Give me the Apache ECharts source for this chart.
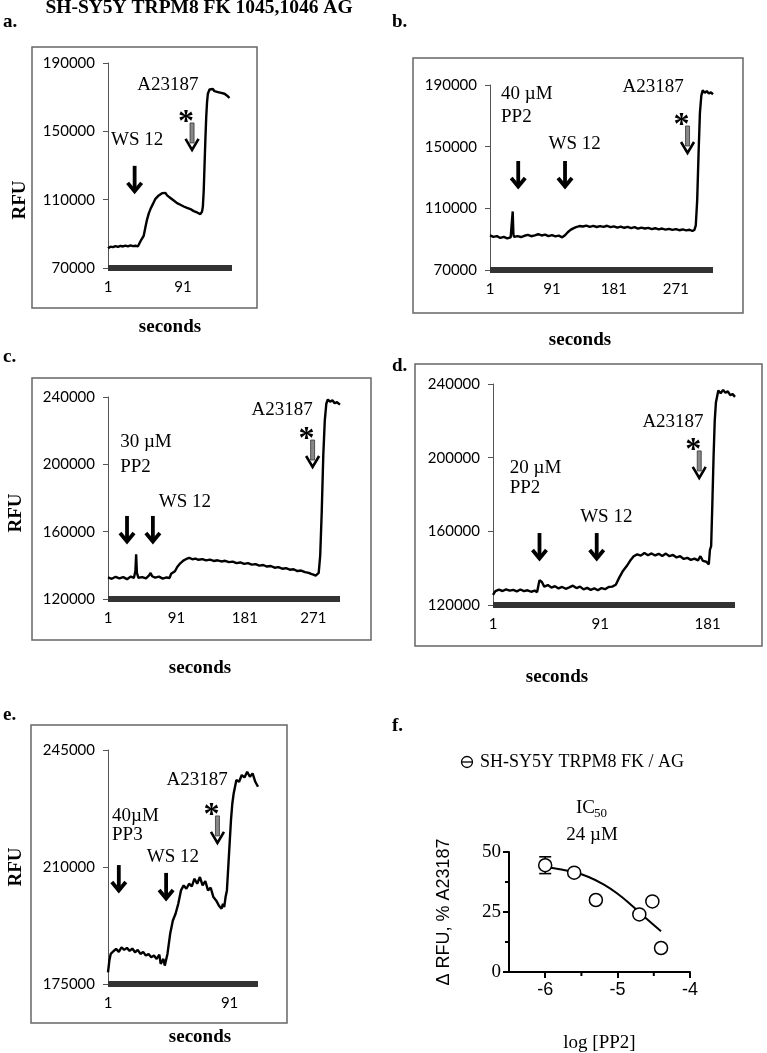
<!DOCTYPE html>
<html><head><meta charset="utf-8">
<script src="https://cdn.jsdelivr.net/npm/echarts@6/dist/echarts.min.js"></script>
<style>html,body{margin:0;padding:0;background:#fff}#c{width:767px;height:1053px}</style>
</head><body><div id="c"></div>
<script>
// ---------- DATA ----------
// panel a : [seconds, RFU]
const traceA = [[1,81500],[4,82500],[7,82200],[10,82800],[13,82400],[16,83000],[19,82600],[22,83100],[25,82700],[28,83200],[31,82800],[34,83000],[37,82700],[39,83500],[41,86500],[42,85500],[44,89000],[46,94000],[48,98500],[50,102000],[52,104500],[54,106500],[56,108500],[58,110500],[60,111500],[62,112500],[64,113000],[66,113800],[68,113200],[70,114000],[72,112500],[74,111800],[76,111000],[78,110200],[80,109500],[82,108600],[84,108000],[86,107400],[88,107000],[90,106600],[92,106000],[94,105800],[96,105200],[98,104800],[100,104500],[102,104000],[104,103300],[106,103000],[108,102500],[110,102000],[112,101500],[114,103000],[115,106000],[116,115000],[117,130000],[118,145000],[119,158000],[120,167000],[121,172000],[123,174500],[125,174000],[127,174800],[129,173500],[131,174200],[133,173000],[135,173800],[137,172500],[139,173200],[141,172000],[143,171500],[145,170500],[147,169500]];
// panel b
const traceB = [[1,92500],[6,91500],[11,92000],[16,90800],[21,91500],[26,90500],[31,91200],[33,92000],[34,108000],[35,93000],[36,91500],[41,92000],[46,91400],[51,92200],[56,92800],[61,91900],[66,92500],[71,93200],[76,92400],[81,93000],[86,92000],[91,92600],[96,91800],[101,92300],[106,91200],[110,92500],[114,94500],[118,96000],[122,97000],[126,97800],[131,98500],[136,98200],[141,98800],[146,98000],[151,98600],[156,97900],[161,98500],[166,98000],[171,98700],[176,97800],[181,98300],[186,97500],[191,98200],[196,97400],[201,98000],[206,97200],[211,97800],[216,96800],[221,97500],[226,96900],[231,97300],[236,96500],[241,97100],[246,96300],[251,96900],[256,96200],[261,96700],[266,96000],[271,96500],[276,95800],[281,96300],[286,95700],[291,96100],[295,95300],[298,96000],[300,99000],[302,115000],[304,145000],[306,172000],[308,183000],[310,186500],[313,185000],[316,186000],[319,184500],[322,185200],[325,184000]];
// panel c
const traceC = [[1,132800],[6,132000],[11,133200],[16,132200],[21,133000],[26,131800],[31,133300],[35,132500],[37,136500],[38,146500],[39,135500],[41,132600],[46,133000],[51,132300],[55,134000],[57,135500],[59,133500],[63,132700],[68,133300],[73,132100],[78,132800],[82,132500],[84,135000],[86,134000],[89,136500],[92,139000],[96,141200],[100,142800],[104,143800],[108,144400],[112,143600],[116,144000],[120,143300],[125,143700],[130,142900],[135,143400],[140,142600],[145,143000],[150,142300],[155,142700],[160,141900],[165,142200],[170,141300],[175,141700],[180,140900],[185,141300],[190,140400],[195,140700],[200,139800],[205,140200],[210,139300],[215,139600],[220,138600],[225,138900],[230,138000],[235,138300],[240,137400],[245,137700],[250,136600],[255,136900],[260,136000],[265,135500],[268,134900],[271,134500],[274,133900],[276,133200],[278,135500],[280,146000],[282,172000],[284,205000],[286,226000],[288,236000],[290,238500],[293,237200],[296,238000],[299,236300],[302,236900],[306,235500]];
// panel d
const traceD = [[1,125500],[3,127500],[6,128300],[9,127600],[12,128500],[15,127800],[18,128200],[21,127400],[24,128400],[27,127500],[30,128000],[33,127200],[36,127800],[38,127000],[40,133500],[42,132500],[44,130000],[47,130800],[50,129500],[53,130200],[56,129000],[59,129800],[62,128800],[65,129600],[68,130500],[71,129200],[74,130000],[77,128500],[80,129300],[83,128200],[86,129000],[89,128000],[92,129200],[95,128600],[98,129800],[101,130000],[104,131000],[107,135000],[110,138500],[113,141000],[116,144000],[119,146500],[122,147500],[125,146800],[128,148200],[131,147000],[134,148000],[137,146900],[140,147800],[143,146600],[146,147900],[149,146500],[152,147200],[155,145800],[158,146500],[161,145000],[164,145600],[167,144500],[170,145200],[173,144200],[175,146500],[177,144000],[180,143500],[182,142000],[183,150000],[184,152000],[185,175000],[186,200000],[187,220000],[188,230000],[190,236500],[192,235000],[194,236800],[196,235200],[198,236000],[200,234000],[202,234500],[204,233000]];
// panel e
const traceE = [[1,178500],[2,182000],[3,184000],[5,184800],[7,185500],[9,184600],[11,186000],[13,185200],[15,185800],[17,184900],[19,185600],[21,184500],[23,185200],[25,184000],[27,184600],[29,183500],[31,184000],[33,183000],[35,183500],[37,182500],[39,183800],[40,181000],[42,182500],[43,180500],[45,184000],[47,190000],[49,194000],[51,196000],[53,199000],[55,203000],[57,204500],[59,203500],[61,205000],[63,204200],[65,206500],[67,205000],[69,207000],[71,204500],[73,205800],[75,203000],[77,203800],[79,201000],[81,200000],[83,198500],[85,197500],[86,199000],[87,198000],[88,201000],[89,203000],[90,210000],[91,217000],[92,224000],[93,229000],[94,232000],[96,236000],[98,235500],[100,237500],[102,236800],[104,238500],[106,237000],[108,238000],[110,235500],[112,234000]];
// panel f : log[PP2] vs delta RFU % A23187
const logPP2 = [-6, -5.6, -5.3, -4.7, -4.52, -4.4];
const deltaRFU = [44.5, 41.4, 30, 24, 29.4, 10];
const errorBars = [[-6, 41, 48]];
const fitX = [-6, -5.8, -5.6, -5.4, -5.2, -5.0, -4.8, -4.6, -4.4];
const fitY = [43.6, 42.8, 41.6, 39.6, 36.6, 32.6, 27.6, 22.2, 17];

// tick labels
const xTicksA = [1, 91], yTicksA = [70000, 110000, 150000, 190000];
const xTicksB = [1, 91, 181, 271], yTicksB = [70000, 110000, 150000, 190000];
const xTicksC = [1, 91, 181, 271], yTicksC = [120000, 160000, 200000, 240000];
const xTicksD = [1, 91, 181], yTicksD = [120000, 160000, 200000, 240000];
const xTicksE = [1, 91], yTicksE = [175000, 210000, 245000];
const xTicksF = [-6, -5, -4], xMinorF = [-5.5, -4.5];

// annotations in data units: labels [text, t, v, align], arrows [t, v tip], star arrow [t, v tip]
const annA = {labels: [['WS 12', 36, 145000, 'center'], ['A23187', 73, 177100, 'center']], arrows: [[33, 114000]], star: [102, 139100]};
const annB = {labels: [['40 µM', 17, 184200, 'left'], ['PP2', 17, 169200, 'left'], ['WS 12', 124, 151700, 'center'], ['A23187', 238, 188700, 'center']], arrows: [[42, 123200], [110, 123200]], star: [288, 145900]};
const annC = {labels: [['30 µM', 17, 213300, 'left'], ['PP2', 17, 198400, 'left'], ['WS 12', 102, 177600, 'center'], ['A23187', 230, 232300, 'center']], arrows: [[26, 153300], [60, 153300]], star: [270, 198400]};
const annD = {labels: [['20 µM', 15, 194400, 'left'], ['PP2', 15, 183500, 'left'], ['WS 12', 96, 167800, 'center'], ['A23187', 152, 219400, 'center']], arrows: [[40, 144400], [88, 144400]], star: [174, 189000]};
const annE = {labels: [['40µM', 4, 225300, 'left'], ['PP3', 4, 219600, 'left'], ['WS 12', 49, 213000, 'center'], ['A23187', 67, 236000, 'center']], arrows: [[9, 202500], [44, 200150]], star: [82, 217200]};

// ---------- CHART ----------
const SERIF = '"Liberation Serif", "Times New Roman", serif';
const SANS = '"Liberation Sans", Arial, sans-serif';
const TICKF = 'Lato, "Liberation Sans", sans-serif';
const plain = v => String(v);

const panels = [
  {grid: {left: 108, top: 63, width: 124, height: 205}, xMax: 150, yMin: 70000, yMax: 190000, xTicks: xTicksA, yTicks: yTicksA, data: traceA, ann: annA},
  {grid: {left: 490, top: 85, width: 223, height: 185}, xMax: 325, yMin: 70000, yMax: 190000, xTicks: xTicksB, yTicks: yTicksB, data: traceB, ann: annB},
  {grid: {left: 108, top: 397, width: 232, height: 202}, xMax: 306, yMin: 120000, yMax: 240000, xTicks: xTicksC, yTicks: yTicksC, data: traceC, ann: annC},
  {grid: {left: 493, top: 384, width: 242, height: 221}, xMax: 204, yMin: 120000, yMax: 240000, xTicks: xTicksD, yTicks: yTicksD, data: traceD, ann: annD},
  {grid: {left: 108, top: 750, width: 150, height: 234}, xMax: 112, yMin: 175000, yMax: 245000, xTicks: xTicksE, yTicks: yTicksE, data: traceE, ann: annE}
];

const chart = echarts.init(document.getElementById('c'), null, {renderer: 'canvas', width: 767, height: 1053});

const grids = [], xAxes = [], yAxes = [], series = [];
panels.forEach((p, i) => {
  grids.push(Object.assign({outerBoundsMode: 'none', containLabel: false}, p.grid));
  xAxes.push({
    gridIndex: i, type: 'value', min: 1, max: p.xMax,
    axisLine: {show: true, lineStyle: {color: '#333', width: 6, cap: 'butt'}},
    axisTick: {show: false}, splitLine: {show: false},
    axisLabel: {customValues: p.xTicks, formatter: plain, fontFamily: TICKF, fontSize: 15, color: '#000', margin: 12}
  });
  yAxes.push({
    gridIndex: i, type: 'value', min: p.yMin, max: p.yMax,
    axisLine: {show: true, lineStyle: {color: '#555', width: 1}},
    axisTick: {show: true, customValues: p.yTicks, length: 5, lineStyle: {color: '#555', width: 1}},
    axisLabel: {customValues: p.yTicks, formatter: plain, fontFamily: TICKF, fontSize: 15, color: '#000', margin: 13},
    splitLine: {show: false}
  });
  series.push({
    type: 'line', xAxisIndex: i, yAxisIndex: i, data: p.data,
    showSymbol: false, symbol: 'none', silent: true,
    lineStyle: {color: '#000', width: 2.4}, z: 3
  });
});

// panel f
grids.push({left: 509, top: 852, width: 181, height: 120, outerBoundsMode: 'none', containLabel: false});
xAxes.push({
  gridIndex: 5, type: 'value', min: -6.5, max: -4, position: 'bottom',
  axisLine: {show: true, onZero: false, lineStyle: {color: '#000', width: 2}},
  axisTick: {show: true, customValues: xTicksF, length: 6, lineStyle: {color: '#000', width: 2}},
  axisLabel: {customValues: xTicksF, formatter: plain, fontFamily: SANS, fontSize: 18, color: '#000', margin: 9},
  splitLine: {show: false},
  name: 'log [PP2]', nameLocation: 'middle', nameGap: 62,
  nameTextStyle: {fontFamily: SERIF, fontSize: 19, color: '#000'}
});
yAxes.push({
  gridIndex: 5, type: 'value', min: 0, max: 50, interval: 25,
  axisLine: {show: true, lineStyle: {color: '#000', width: 2}},
  axisTick: {show: true, length: 6, lineStyle: {color: '#000', width: 2}},
  minorTick: {show: true, splitNumber: 2, length: 4, lineStyle: {color: '#000', width: 2}},
  axisLabel: {formatter: plain, fontFamily: SERIF, fontSize: 19, color: '#000', margin: 8},
  splitLine: {show: false}, minorSplitLine: {show: false},
  name: 'Δ RFU, % A23187', nameLocation: 'middle', nameGap: 56, nameRotate: 90,
  nameTextStyle: {fontFamily: SANS, fontSize: 18, color: '#000'}
});
// minor x ticks of panel f, drawn through the x scale
series.push({
  type: 'custom', xAxisIndex: 5, yAxisIndex: 5, data: xMinorF.map(v => [v]), silent: true, clip: false, z: 5,
  renderItem: function (params, api) {
    const c = api.coord([api.value(0), 0]);
    return {type: 'line', shape: {x1: c[0], y1: c[1], x2: c[0], y2: c[1] + 4}, style: {stroke: '#000', lineWidth: 2}};
  }
});
series.push({
  type: 'line', xAxisIndex: 5, yAxisIndex: 5, smooth: true, showSymbol: false, symbol: 'none',
  data: fitX.map((x, k) => [x, fitY[k]]), lineStyle: {color: '#000', width: 2}, z: 2, silent: true
});
series.push({
  type: 'custom', xAxisIndex: 5, yAxisIndex: 5, data: errorBars, z: 3, silent: true,
  renderItem: function (params, api) {
    const lo = api.coord([api.value(0), api.value(1)]);
    const hi = api.coord([api.value(0), api.value(2)]);
    const st = {stroke: '#000', lineWidth: 1.6};
    return {type: 'group', children: [
      {type: 'line', shape: {x1: lo[0], y1: lo[1], x2: hi[0], y2: hi[1]}, style: st},
      {type: 'line', shape: {x1: lo[0] - 6, y1: lo[1], x2: lo[0] + 6, y2: lo[1]}, style: st},
      {type: 'line', shape: {x1: hi[0] - 6, y1: hi[1], x2: hi[0] + 6, y2: hi[1]}, style: st}
    ]};
  }
});
series.push({
  type: 'scatter', name: 'SH-SY5Y TRPM8 FK / AG', xAxisIndex: 5, yAxisIndex: 5, symbol: 'circle', symbolSize: 13,
  data: logPP2.map((x, k) => [x, deltaRFU[k]]), z: 4, silent: true,
  itemStyle: {color: '#ffffff', opacity: 1, borderColor: '#000', borderWidth: 1.5}
});

chart.setOption({
  animation: false, backgroundColor: '#fff',
  grid: grids, xAxis: xAxes, yAxis: yAxes, series: series
});

// ---------- GRAPHIC (frames, titles, annotations) ----------
function txt(s, x, y, size, opts) {
  opts = opts || {};
  return {
    type: 'text', x: x, y: y, rotation: opts.rot || 0, silent: true, z: 10,
    style: {text: s, fill: '#000', fontFamily: opts.font || SERIF, fontSize: size,
      fontWeight: opts.bold ? 'bold' : 'normal',
      align: opts.align || 'center', textAlign: opts.align || 'center',
      verticalAlign: 'middle', textVerticalAlign: 'middle'}
  };
}
function rect(x, y, w, h) {
  return {type: 'rect', shape: {x: x, y: y, width: w, height: h}, silent: true, z: 1,
    style: {fill: 'none', stroke: '#666', lineWidth: 1.5}};
}
const els = [];
// frames
els.push(rect(32, 47, 225, 261), rect(413, 58, 330, 255), rect(32, 378, 339, 262), rect(415, 364, 347, 282), rect(31, 725, 256, 298));
// title and letters
els.push(txt('SH-SY5Y TRPM8 FK 1045,1046 AG', 199, 8, 19.5, {bold: true}));
[['a.', 3, 22], ['b.', 392, 22], ['c.', 3, 357], ['d.', 392, 366], ['e.', 3, 715], ['f.', 392, 726]].forEach(l => els.push(txt(l[0], l[1], l[2], 19, {bold: true, align: 'left'})));
// RFU and seconds
[[20, 200], [16, 513], [16, 867]].forEach(p => els.push(txt('RFU', p[0], p[1], 19, {bold: true, rot: Math.PI / 2})));
[[170, 327], [580, 340], [200, 668], [557, 677], [200, 1037]].forEach(p => els.push(txt('seconds', p[0], p[1], 19, {bold: true})));

// annotations via axis conversion
panels.forEach((p, i) => {
  const conv = (t, v) => chart.convertToPixel({xAxisIndex: i, yAxisIndex: i}, [t, v]);
  p.ann.labels.forEach(l => {
    const c = conv(l[1], l[2]);
    els.push(txt(l[0], c[0], c[1], 19, {align: l[3]}));
  });
  p.ann.arrows.forEach(a => {
    const c = conv(a[0], a[1]);
    const x = c[0], y = c[1];
    els.push({type: 'polyline', silent: true, z: 10, shape: {points: [[x, y - 27], [x, y - 3]]}, style: {fill: 'none', stroke: '#000', lineWidth: 3.8}});
    els.push({type: 'polyline', silent: true, z: 10, shape: {points: [[x - 7, y - 10], [x, y - 1.5], [x + 7, y - 10]]}, style: {fill: 'none', stroke: '#000', lineWidth: 3.8, lineJoin: 'miter'}});
  });
  const s = conv(p.ann.star[0], p.ann.star[1]);
  const sx = s[0], sy = s[1];
  els.push({type: 'rect', silent: true, z: 10, shape: {x: sx - 2, y: sy - 27, width: 4, height: 20}, style: {fill: '#888', stroke: '#333', lineWidth: 0.8}});
  els.push({type: 'polyline', silent: true, z: 10, shape: {points: [[sx - 6.5, sy - 11], [sx, sy], [sx + 6.5, sy - 11]]}, style: {fill: 'none', stroke: '#000', lineWidth: 2.6, lineJoin: 'miter'}});
  els.push(txt('*', sx - 6, sy - 27, 32, {bold: true}));
});

// panel f labels
els.push({type: 'circle', silent: true, z: 10, shape: {cx: 467, cy: 762, r: 5.5}, style: {fill: '#fff', stroke: '#000', lineWidth: 1.3}});
els.push({type: 'line', silent: true, z: 11, shape: {x1: 461, y1: 762, x2: 473, y2: 762}, style: {stroke: '#000', lineWidth: 1.3}});
els.push(txt('SH-SY5Y TRPM8 FK / AG', 480, 762, 18, {align: 'left'}));
els.push(txt('IC', 576, 808, 19, {align: 'left'}));
els.push(txt('50', 594, 814, 13, {align: 'left'}));
els.push(txt('24 µM', 592, 835, 19));

chart.setOption({graphic: {elements: els}});
</script>
</body></html>
